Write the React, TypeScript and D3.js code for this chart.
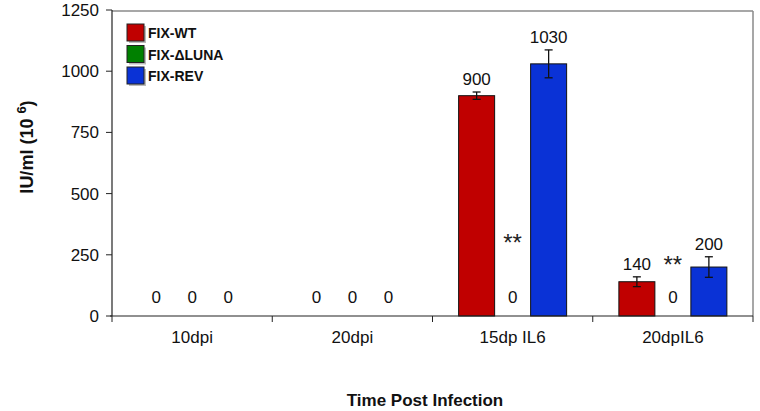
import React from "react";
import * as d3 from "d3";

const categories = ["10dpi", "20dpi", "15dp IL6", "20dpIL6"];
const seriesNames = ["FIX-WT", "FIX-\u0394LUNA", "FIX-REV"];
const wtValues = [0, 0, 900, 140];
const lunaValues = [0, 0, 0, 0];
const revValues = [0, 0, 1030, 200];
const wtErrors = [0, 0, 15, 20];
const lunaErrors = [0, 0, 0, 0];
const revErrors = [0, 0, 57, 42];
const sigMarks = ["", "", "**", "**"];
const sigLevels = [0, 0, 267, 174];
const yTicks = [0, 250, 500, 750, 1000, 1250];
const colors = ["#c00000", "#008000", "#0a32d6"];

const W = 760, H = 411;
const left = 112, right = 753, top = 10, bottom = 316;
const font = "Arial, 'Liberation Sans', sans-serif";

export default function App() {
  const x = d3.scaleBand<string>().domain(categories).range([left, right]);
  const inner = d3.scaleBand<string>().domain(seriesNames).range([-54, 54]);
  const y = d3.scaleLinear().domain([0, 1250]).range([bottom, top]);
  const values = [wtValues, lunaValues, revValues];
  const errors = [wtErrors, lunaErrors, revErrors];
  const bw = inner.bandwidth();

  return (
    <svg width={W} height={H} style={{ position: "absolute", left: 0, top: 0 }} fontFamily={font}>
      <rect x={0} y={0} width={W} height={H} fill="#fff" />
      {/* frame */}
      <line x1={left} x2={right} y1={top + 1} y2={top + 1} stroke="#8a8a8a" strokeWidth={1.5} />
      <line x1={right} x2={right} y1={top + 1} y2={bottom} stroke="#8a8a8a" strokeWidth={1.5} />
      {/* bars */}
      {categories.map((c, ci) =>
        seriesNames.map((s, si) => {
          const v = values[si][ci];
          const cx = (x(c) as number) + x.bandwidth() / 2 + (inner(s) as number);
          if (v <= 0) return null;
          return (
            <rect key={c + s} x={cx} y={y(v)} width={bw} height={bottom - y(v)}
              fill={colors[si]} stroke="#111" strokeWidth={1} />
          );
        })
      )}
      {/* error bars */}
      {categories.map((c, ci) =>
        seriesNames.map((s, si) => {
          const v = values[si][ci];
          const e = errors[si][ci];
          if (v <= 0 || e <= 0) return null;
          const mx = (x(c) as number) + x.bandwidth() / 2 + (inner(s) as number) + bw / 2;
          return (
            <g key={"e" + c + s} stroke="#111" strokeWidth={1.3}>
              <line x1={mx} x2={mx} y1={y(v + e)} y2={y(v - e)} />
              <line x1={mx - 4} x2={mx + 4} y1={y(v + e)} y2={y(v + e)} />
              <line x1={mx - 4} x2={mx + 4} y1={y(v - e)} y2={y(v - e)} />
            </g>
          );
        })
      )}
      {/* value labels */}
      {categories.map((c, ci) =>
        seriesNames.map((s, si) => {
          const v = values[si][ci];
          const e = errors[si][ci];
          const mx = (x(c) as number) + x.bandwidth() / 2 + (inner(s) as number) + bw / 2;
          const ty = v > 0 ? y(v + e) - 7 : bottom - 13;
          return (
            <text key={"t" + c + s} x={mx} y={ty} textAnchor="middle" fontSize={17} fill="#111">
              {v}
            </text>
          );
        })
      )}
      {/* significance marks */}
      {categories.map((c, ci) =>
        sigMarks[ci] ? (
          <text key={"s" + c} x={(x(c) as number) + x.bandwidth() / 2} y={y(sigLevels[ci])}
            textAnchor="middle" fontSize={24} fill="#222">{sigMarks[ci]}</text>
        ) : null
      )}
      {/* y axis */}
      <line x1={left} x2={left} y1={top} y2={bottom} stroke="#222" strokeWidth={1.2} />
      {yTicks.map((t) => (
        <g key={"y" + t}>
          <line x1={left - 6} x2={left} y1={y(t)} y2={y(t)} stroke="#222" strokeWidth={1} />
          <text x={left - 13} y={y(t) + 6} textAnchor="end" fontSize={17} fill="#111">{t}</text>
        </g>
      ))}
      {/* x axis */}
      <line x1={left - 2} x2={right} y1={bottom} y2={bottom} stroke="#222" strokeWidth={1.2} />
      {[...categories.map((c) => x(c) as number), right].map((p, i) => (
        <line key={"xt" + i} x1={p} x2={p} y1={bottom} y2={bottom + 6} stroke="#222" strokeWidth={1} />
      ))}
      {categories.map((c) => (
        <text key={"xl" + c} x={(x(c) as number) + x.bandwidth() / 2} y={343} textAnchor="middle"
          fontSize={17} fill="#111">{c}</text>
      ))}
      {/* axis titles */}
      <text transform="translate(33,147) rotate(-90)" textAnchor="middle" fontSize={18}
        fontWeight="bold" fill="#111">
        IU/ml (10 <tspan dy={-7} fontSize={13}>6</tspan><tspan dy={7}>)</tspan>
      </text>
      <text x={425} y={406} textAnchor="middle" fontSize={17} fontWeight="bold" fill="#111">
        Time Post Infection
      </text>
      {/* legend */}
      {seriesNames.map((s, i) => (
        <g key={"lg" + s} transform={`translate(127,${24 + i * 21.5})`}>
          <rect x={2} y={2} width={17} height={17} fill="#777" opacity={0.5} />
          <rect x={0} y={0} width={17} height={17} fill={colors[i]} stroke="#222" strokeWidth={1} />
          <text x={21} y={14} fontSize={14} fontWeight="bold" fill="#111">{s}</text>
        </g>
      ))}
    </svg>
  );
}
